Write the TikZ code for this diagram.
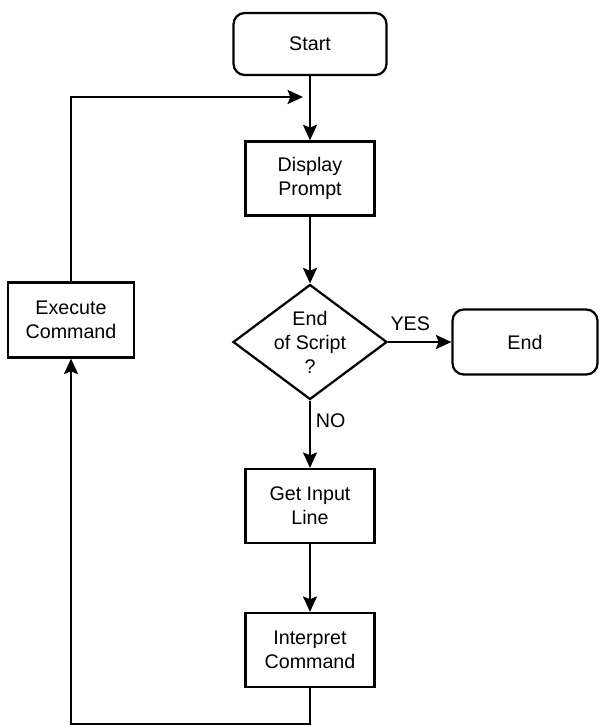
\documentclass[tikz,border=0pt]{standalone}
\usepackage{fontspec}
\setmainfont{Liberation Sans}
\usetikzlibrary{shapes.geometric,arrows.meta}

\begin{document}
\begin{tikzpicture}[
        every node/.style={font=\fontsize{14}{17}\selectfont},
        line width=1.6pt,
        flow/.style={-{Stealth[length=11pt,width=10pt,inset=2pt]}},
        terminal/.style={draw, rounded corners=8pt, minimum width=3.825cm, minimum height=1.55cm},
        process/.style={draw, align=center, minimum width=3.225cm, minimum height=1.85cm},
        decision/.style={draw, diamond, minimum width=3.85cm, minimum height=2.875cm, inner sep=0pt}
    ]
        \useasboundingbox (0,0) rectangle (15,-18.15);

        \node[terminal] (start) at (7.75,-1.1) {Start};
        \node[process] (prompt) at (7.75,-4.46) {Display\\Prompt};
        \node[decision, label={[align=center]center:End\\of Script\\?}] (eos) at (7.75,-8.55) {};
        \node[terminal, minimum width=3.625cm, minimum height=1.625cm] (end) at (13.125,-8.55) {End};
        \node[process] (getline) at (7.75,-12.65) {Get Input\\Line};
        \node[process] (interp) at (7.75,-16.25) {Interpret\\Command};
        \node[process, minimum width=3.15cm, minimum height=1.875cm] (exec) at (1.775,-8.0) {Execute\\Command};

        \coordinate (join) at (7.75,-2.425);
        \coordinate (bottom) at (7.75,-18.1);

        \draw[flow] (start) -- (prompt);
        \draw[flow] (prompt) -- (eos);
        \draw[flow] (eos) -- node[above=1.5mm, pos=0.35] {YES} (end);
        \draw[flow] (eos) -- node[right, pos=0.3] {NO} (getline);
        \draw[flow] (getline) -- (interp);
        \draw[flow] (interp) -- (bottom) -| (exec);
        \draw[flow, shorten >=1.75mm] (exec) |- (join);
    \end{tikzpicture}
\end{document}
